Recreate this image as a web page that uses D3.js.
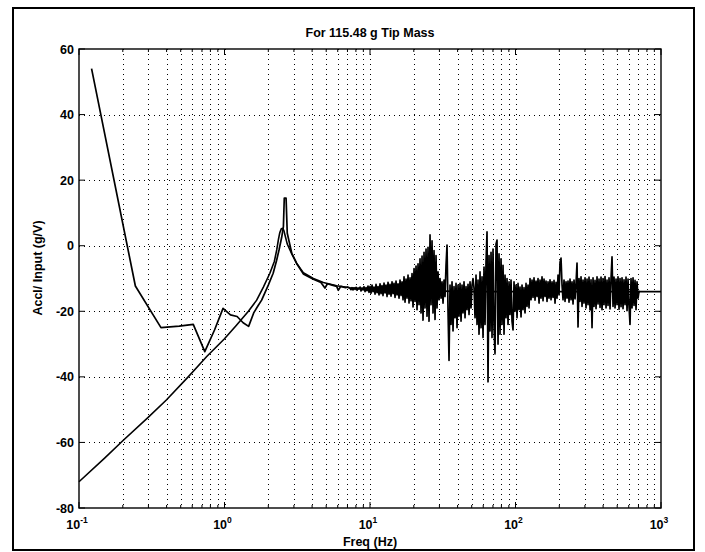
<!DOCTYPE html>
<html>
<head>
<meta charset="utf-8">
<script src="https://cdn.jsdelivr.net/npm/d3@7"></script>
<style>
  body { margin: 0; background: #fff; }
  text { font-family: "Liberation Sans", Arial, sans-serif; font-weight: bold; fill: #000; }
</style>
</head>
<body>
<div id="chart"></div>
<script>
const titleText = "For 115.48 g Tip Mass";
const xLabel = "Freq (Hz)";
const yLabel = "Accl/ Input (g/V)";
const yTicks = [-80, -60, -40, -20, 0, 20, 40, 60];
const xDecades = [-1, 0, 1, 2, 3];

// smooth model curve
const modelF = [0.1, 0.15, 0.2, 0.3, 0.4, 0.563, 0.755, 1.0, 1.2, 1.46, 1.664, 1.85, 2.05, 2.2, 2.285, 2.35, 2.4, 2.46, 2.52, 2.56, 2.62, 2.7, 2.9, 3.13, 3.48, 4.08, 4.78, 5.9, 7.29, 11.1, 20, 50, 100, 300, 1000];
const modelV = [-72, -64.8, -59.5, -52.3, -47.0, -40.0, -33.8, -28.4, -24.4, -20.0, -16.6, -12.6, -8.4, -4.8, -1.3, 2.0, 4.0, 5.2, 5.3, 4.6, 2.8, 0.5, -2.5, -5.3, -8.2, -10.0, -11.2, -12.2, -12.8, -13.3, -13.7, -14, -14, -14, -14];

// measured curve, low frequencies
const measF = [0.122, 0.244, 0.366, 0.488, 0.610, 0.732, 0.854, 0.977, 1.099, 1.221, 1.343, 1.465, 1.587, 1.70, 1.80, 2.0, 2.16, 2.28, 2.37, 2.47, 2.54, 2.575, 2.65, 2.70, 2.90, 3.13, 3.48, 4.08, 4.6, 4.9, 5.1, 5.5, 5.9, 6.05, 6.3, 6.8, 7.0];
const measV = [54, -12.3, -25.0, -24.5, -24.0, -32.3, -25.7, -19.1, -21.1, -21.6, -23.5, -24.6, -20.5, -18.3, -16.6, -12.0, -8.4, -4.5, -1.3, 2.5, 5.8, 14.5, 14.5, 3.8, -2.3, -5.4, -8.6, -10.2, -11.2, -12.9, -11.6, -12.0, -12.4, -13.6, -12.4, -12.8, -12.6];

// measured curve, noisy part (log spaced from 7.29 Hz to 717.5 Hz)
const noiseStart = 7.29, noiseEnd = 717.5;
const noiseV = [
  -13.0,-13.4,-12.8,-13.5,-12.9,-13.3,-12.7,-13.6,-13.0,-13.2,
  -12.6,-13.8,-12.9,-13.5,-12.5,-14.0,-12.8,-13.7,-12.3,-14.2,
  -12.4,-14.5,-12.0,-14.0,-12.6,-14.8,-11.8,-14.3,-12.5,-15.0,
  -11.6,-14.6,-12.2,-15.2,-11.4,-14.4,-12.0,-15.5,-11.2,-14.8,
  -11.8,-15.4,-11.0,-14.6,-11.5,-15.8,-10.8,-15.0,-11.6,-16.0,
  -10.5,-15.2,-11.0,-16.5,-9.5,-17.2,-10.2,-16.0,-9.0,-17.5,
  -9.8,-16.8,-8.5,-18.7,-7.0,-17.0,-6.2,-19.5,-5.5,-18.0,
  -4.0,-20.5,-3.2,-22.7,-2.0,-19.0,-1.0,-21.5,-0.5,-23.0,
  3.3,-18.0,1.5,-20.5,-1.5,-22.5,-3.0,-19.0,-8.0,-16.5,
  -10.0,-16.0,-11.0,-17.5,-10.5,-15.5,-6.0,0.2,-20.0,-35.0,
  -12.0,-24.0,-11.0,-26.0,-12.5,-22.0,-11.5,-25.0,-12.0,-21.5,
  -11.5,-23.0,-12.0,-20.5,-11.0,-22.0,-12.5,-19.5,-11.8,-21.0,
  -11.0,-19.0,-12.0,-10.0,-13.0,-22.0,-9.0,-24.0,-10.5,-27.0,
  -8.0,-25.0,-9.5,-28.0,-6.5,-24.0,-5.0,4.2,-41.5,-3.0,
  -26.0,-2.0,-28.0,-1.0,-25.0,-33.0,0.5,1.7,-30.0,-2.5,
  -27.0,-4.0,-24.0,-6.0,-27.0,-9.0,-22.0,-10.0,-24.0,-11.0,
  -21.0,-10.5,-23.0,-25.7,-11.0,-20.0,-12.0,-22.0,-11.5,-19.5,
  -12.6,-21.7,-12.0,-19.5,-12.8,-20.5,-11.5,-18.5,-12.0,-19.0,
  -10.0,-16.5,-10.5,-15.8,-9.8,-16.6,-10.8,-15.5,-10.0,-17.5,
  -10.5,-16.0,-9.5,-16.8,-10.2,-15.5,-10.8,-17.0,-11.0,-16.0,
  -10.4,-16.5,-11.0,-15.8,-10.6,-17.5,-11.2,-16.0,-9.0,-15.0,
  -5.0,-3.8,-12.0,-16.5,-10.5,-17.0,-11.0,-16.0,-10.8,-17.2,
  -10.2,-16.5,-11.0,-17.8,-10.5,-16.2,-11.5,-5.3,-24.8,-10.0,
  -17.0,-9.5,-18.5,-10.5,-17.5,-9.8,-19.0,-10.2,-18.0,-9.6,
  -19.6,-10.4,-25.0,-9.8,-18.5,-10.6,-19.2,-9.5,-17.8,-10.2,
  -18.8,-9.6,-19.5,-10.0,-18.0,-9.4,-19.0,-10.5,-18.2,-9.8,
  -19.3,-10.0,-3.4,-18.5,-9.6,-19.0,-10.2,-18.0,-9.5,-19.4,
  -10.0,-18.6,-9.8,-19.2,-10.4,-18.0,-9.6,-19.8,-10.2,-18.5,
  -24.0,-10.0,-19.0,-9.8,-18.2,-10.6,-19.5,-11.0,-16.0,-14.0,
  -14.0
];

const W = 705, H = 552;
const plot = {left: 79, right: 661, top: 49, bottom: 508};

const svg = d3.select("#chart").append("svg")
  .attr("width", W).attr("height", H);

// outer frame
svg.append("rect")
  .attr("x", 13).attr("y", 8).attr("width", 681).attr("height", 542)
  .attr("fill", "none").attr("stroke", "#000").attr("stroke-width", 2);

const x = d3.scaleLog().domain([0.1, 1000]).range([plot.left, plot.right]);
const y = d3.scaleLinear().domain([-80, 60]).range([plot.bottom, plot.top]);

// minor / major x positions
const xMinor = [];
xDecades.slice(0, -1).forEach(e => {
  for (let k = 2; k <= 9; k++) xMinor.push(k * Math.pow(10, e));
});
const xMajor = xDecades.map(e => Math.pow(10, e));

const grid = svg.append("g")
  .attr("stroke", "#000").attr("stroke-width", 1).attr("stroke-dasharray", "1,4");

grid.selectAll(".gx")
  .data(xMinor.concat(xMajor.slice(1, -1)))
  .enter().append("line")
  .attr("x1", d => Math.round(x(d)) + 0.5).attr("x2", d => Math.round(x(d)) + 0.5)
  .attr("y1", plot.top).attr("y2", plot.bottom);

grid.selectAll(".gy")
  .data(yTicks.slice(1, -1))
  .enter().append("line")
  .attr("y1", d => Math.round(y(d)) + 0.5).attr("y2", d => Math.round(y(d)) + 0.5)
  .attr("x1", plot.left).attr("x2", plot.right);

// ticks (inward, all four sides)
const ticks = svg.append("g").attr("stroke", "#000").attr("stroke-width", 1);
[plot.bottom, plot.top].forEach(yy => {
  const dir = yy === plot.bottom ? -1 : 1;
  ticks.selectAll(null).data(xMajor).enter().append("line")
    .attr("x1", d => x(d)).attr("x2", d => x(d))
    .attr("y1", yy).attr("y2", yy + dir * 6);
  ticks.selectAll(null).data(xMinor).enter().append("line")
    .attr("x1", d => x(d)).attr("x2", d => x(d))
    .attr("y1", yy).attr("y2", yy + dir * 3);
});
[plot.left, plot.right].forEach(xx => {
  const dir = xx === plot.left ? 1 : -1;
  ticks.selectAll(null).data(yTicks).enter().append("line")
    .attr("y1", d => y(d)).attr("y2", d => y(d))
    .attr("x1", xx).attr("x2", xx + dir * 6);
});

// plot box
svg.append("rect")
  .attr("x", plot.left).attr("y", plot.top)
  .attr("width", plot.right - plot.left).attr("height", plot.bottom - plot.top)
  .attr("fill", "none").attr("stroke", "#000").attr("stroke-width", 1.4);

// curves
const line = d3.line().x(d => x(d[0])).y(d => y(d[1]));

const modelData = modelF.map((f, i) => [f, modelV[i]]);
const noiseF = noiseV.map((v, i) => noiseStart * Math.pow(noiseEnd / noiseStart, i / (noiseV.length - 1)));
const measData = measF.map((f, i) => [f, measV[i]])
  .concat(noiseF.map((f, i) => [f, noiseV[i]]));

svg.append("path").datum(modelData)
  .attr("d", line).attr("fill", "none")
  .attr("stroke", "#000").attr("stroke-width", 1.6);

svg.append("path").datum(measData)
  .attr("d", line).attr("fill", "none")
  .attr("stroke", "#000").attr("stroke-width", 1.7).attr("stroke-linejoin", "round");

// y tick labels
svg.selectAll(".ylab")
  .data(yTicks)
  .enter().append("text")
  .attr("x", plot.left - 5)
  .attr("y", d => y(d) + 4.5)
  .attr("text-anchor", "end")
  .style("font-size", "12.5px")
  .text(d => d);

// x tick labels 10^e
const xl = svg.selectAll(".xlab")
  .data(xDecades)
  .enter().append("text")
  .attr("x", d => x(Math.pow(10, d)) - 2)
  .attr("y", plot.bottom + 21)
  .attr("text-anchor", "middle")
  .style("font-size", "12.5px");
xl.append("tspan").text("10");
xl.append("tspan").attr("dy", -6).style("font-size", "8.5px").text(d => d);

// title and axis labels
svg.append("text")
  .attr("x", (plot.left + plot.right) / 2).attr("y", 37)
  .attr("text-anchor", "middle").style("font-size", "12.5px")
  .text(titleText);

svg.append("text")
  .attr("x", (plot.left + plot.right) / 2).attr("y", 546)
  .attr("text-anchor", "middle").style("font-size", "12.5px")
  .text(xLabel);

svg.append("text")
  .attr("transform", "translate(42,268) rotate(-90)")
  .attr("text-anchor", "middle").style("font-size", "12.5px")
  .text(yLabel);
</script>
</body>
</html>
